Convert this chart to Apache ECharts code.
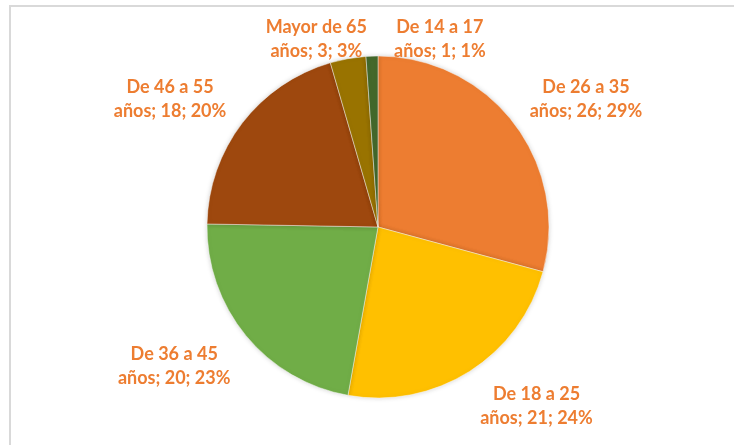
<!DOCTYPE html>
<html>
<head>
<meta charset="utf-8">
<script src="https://cdn.jsdelivr.net/npm/echarts@6/dist/echarts.min.js"></script>
<style>
    html, body { margin: 0; padding: 0; background: #fff; }
    #container { width: 734px; height: 445px; }
</style>
</head>
<body>
<div id="container"></div>
<script>
// datos del gráfico (orden de las porciones, desde las 12 en sentido horario)
var categories = ['De 26 a 35 años', 'De 18 a 25 años', 'De 36 a 45 años', 'De 46 a 55 años', 'Mayor de 65 años', 'De 14 a 17 años'];
var values = [26, 21, 20, 18, 3, 1];
var colors = ['#ED7D31', '#FFC000', '#70AD47', '#9E480E', '#997300', '#43682B'];

var cx = 378, cy = 227, R = 171;

// angulo medio de cada porcion (radianes, desde arriba, horario)
var total = values.reduce(function (a, b) { return a + b; }, 0);
var midAngles = [];
var acc = 0;
for (var i = 0; i < values.length; i++) {
    midAngles.push((acc + values[i] / 2) / total * Math.PI * 2);
    acc += values[i];
}

var pieData = categories.map(function (name, i) {
    return { name: name, value: values[i], itemStyle: { color: colors[i] } };
});

var option = {
    animation: false,
    graphic: [{
        type: 'rect',
        shape: { x: 10, y: 6, width: 800, height: 500 },
        style: { fill: 'none', stroke: '#D9D9D9', lineWidth: 2 },
        silent: true
    }],
    series: [{
        type: 'pie',
        center: [cx, cy],
        radius: R,
        startAngle: 90,
        clockwise: true,
        percentPrecision: 0,
        avoidLabelOverlap: false,
        data: pieData,
        itemStyle: {
            borderColor: 'rgba(255,255,255,0.6)',
            borderWidth: 0.75,
            shadowBlur: 5,
            shadowColor: 'rgba(0,0,0,0.18)'
        },
        label: {
            show: true,
            position: 'outside',
            formatter: function (p) {
                return p.name.replace(' años', '\naños') + '; ' + p.value + '; ' + p.percent + '%';
            },
            color: '#ED7D31',
            fontFamily: 'Lato',
            fontWeight: 'bold',
            fontSize: 18,
            lineHeight: 24
        },
        labelLine: { show: false },
        labelLayout: function (p) {
            var a = midAngles[p.dataIndex];
            var share = values[p.dataIndex] / total;
            var w = p.labelRect.width;
            var sx = Math.sin(a), cyy = Math.cos(a);
            if (share < 0.05) {
                // porciones pequeñas: etiquetas arriba, una a cada lado
                var yTop = cy - R - 17;
                if (sx < -0.1) {
                    return { x: cx - 11 - w / 2, y: yTop, align: 'center', verticalAlign: 'middle' };
                }
                return { x: cx + 16 + w / 2, y: yTop, align: 'center', verticalAlign: 'middle' };
            }
            var d = R + 20;
            var ax = cx + sx * d, ay = cy - cyy * d;
            return {
                x: ax + (sx >= 0 ? w / 2 : -w / 2),
                y: ay + (cyy > 0 ? -12 : 18),
                align: 'center',
                verticalAlign: 'middle'
            };
        }
    }]
};

echarts.init(document.getElementById('container')).setOption(option);
</script>
</body>
</html>
